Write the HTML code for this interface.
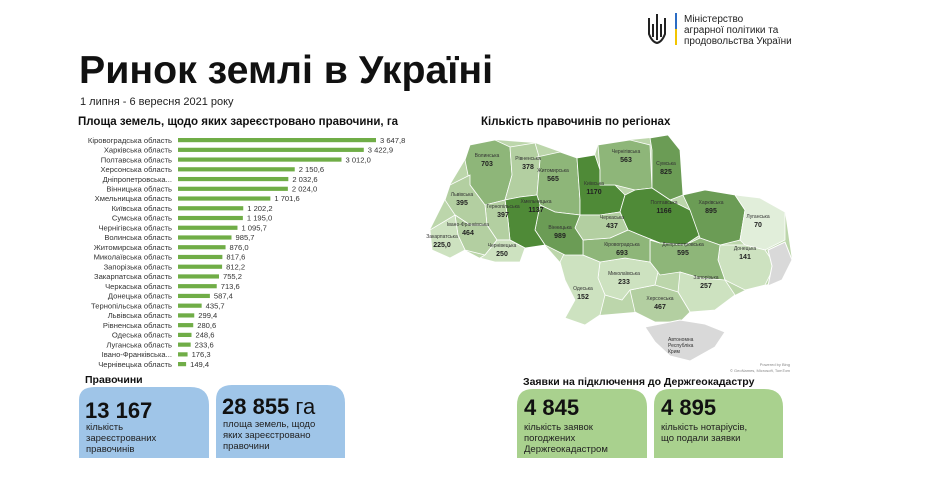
<!DOCTYPE html>
<html><head><meta charset="utf-8"><style>
html,body{margin:0;padding:0;background:#fff;}
svg{display:block;font-family:"Liberation Sans","DejaVu Sans",sans-serif;}
</style></head><body>
<svg id="root" width="947" height="504" viewBox="0 0 947 504" xmlns="http://www.w3.org/2000/svg">
<g>
  <path d="M657 14 L657 40 M649 18 L649 34 Q652 42 657 43 Q662 42 665 34 L665 18 M653 24 L653 37 M661 24 L661 37" stroke="#222" stroke-width="2" fill="none"/>
  <rect x="675" y="13" width="2" height="16" fill="#2b6cc4"/>
  <rect x="675" y="29" width="2" height="16" fill="#f2c500"/>
  <text x="684" y="22" font-size="10" fill="#222">Міністерство</text>
  <text x="684" y="33" font-size="10" fill="#222">аграрної політики та</text>
  <text x="684" y="44" font-size="10" fill="#222">продовольства України</text>
</g>
<text x="79" y="83" font-size="39" font-weight="bold" fill="#111" textLength="414" lengthAdjust="spacingAndGlyphs">Ринок землі в Україні</text>
<text x="80" y="105" font-size="11" fill="#222">1 липня - 6 вересня 2021 року</text>
<text x="78" y="125" font-size="11.5" font-weight="bold" fill="#111" textLength="320" lengthAdjust="spacingAndGlyphs">Площа земель, щодо яких зареєстровано правочини, га</text>
<g id="bars"></g>
<text x="481" y="125" font-size="11.5" font-weight="bold" fill="#111">Кількість правочинів по регіонах</text>
<g id="map"></g>
<text x="790" y="366" font-size="4" fill="#888" text-anchor="end">Powered by Bing</text>
<text x="790" y="372" font-size="4" fill="#888" text-anchor="end">© GeoNames, Microsoft, TomTom</text>

<text x="85" y="383" font-size="10.5" font-weight="bold" fill="#111">Правочини</text>
<path d="M79 458 L79 400 Q79 387 95 387 L190 387 Q209 387 209 405 L209 458 Z" fill="#9fc5e8"/>
<text x="85" y="418" font-size="22" font-weight="bold" fill="#111">13 167</text>
<text x="86" y="430" font-size="9.5" fill="#222">кількість</text>
<text x="86" y="441" font-size="9.5" fill="#222">зареєстрованих</text>
<text x="86" y="452" font-size="9.5" fill="#222">правочинів</text>
<path d="M216 458 L216 400 Q216 385 232 385 L327 385 Q345 385 345 403 L345 458 Z" fill="#9fc5e8"/>
<text x="222" y="414" font-size="22" font-weight="bold" fill="#111">28 855 <tspan font-weight="normal">га</tspan></text>
<text x="223" y="427" font-size="9.5" fill="#222">площа земель, щодо</text>
<text x="223" y="438" font-size="9.5" fill="#222">яких зареєстровано</text>
<text x="223" y="449" font-size="9.5" fill="#222">правочини</text>

<text x="523" y="385" font-size="10.5" font-weight="bold" fill="#111">Заявки на підключення до Держгеокадастру</text>
<path d="M517 458 L517 405 Q517 389 533 389 L627 389 Q647 389 647 407 L647 458 Z" fill="#a9d18e"/>
<text x="524" y="415" font-size="22" font-weight="bold" fill="#111">4 845</text>
<text x="524" y="430" font-size="9.5" fill="#222">кількість заявок</text>
<text x="524" y="441" font-size="9.5" fill="#222">погоджених</text>
<text x="524" y="452" font-size="9.5" fill="#222">Держгеокадастром</text>
<path d="M654 458 L654 405 Q654 389 670 389 L764 389 Q783 389 783 407 L783 458 Z" fill="#a9d18e"/>
<text x="661" y="415" font-size="22" font-weight="bold" fill="#111">4 895</text>
<text x="661" y="430" font-size="9.5" fill="#222">кількість нотаріусів,</text>
<text x="661" y="441" font-size="9.5" fill="#222">що подали заявки</text>
</svg>
<script>
// Bar chart data
const barCategories = ["Кіровоградська область","Харківська область","Полтавська область","Херсонська область","Дніпропетровська...","Вінницька область","Хмельницька область","Київська область","Сумська область","Чернігівська область","Волинська область","Житомирська область","Миколаївська область","Запорізька область","Закарпатська область","Черкаська область","Донецька область","Тернопільська область","Львівська область","Рівненська область","Одеська область","Луганська область","Івано-Франківська...","Чернівецька область"];
const barValues = [3647.8,3422.9,3012.0,2150.6,2032.6,2024.0,1701.6,1202.2,1195.0,1095.7,985.7,876.0,817.6,812.2,755.2,713.6,587.4,435.7,299.4,280.6,248.6,233.6,176.3,149.4];
const barLabels = ["3 647,8","3 422,9","3 012,0","2 150,6","2 032,6","2 024,0","1 701,6","1 202,2","1 195,0","1 095,7","985,7","876,0","817,6","812,2","755,2","713,6","587,4","435,7","299,4","280,6","248,6","233,6","176,3","149,4"];
// Map data
const regionNames = ["Волинська","Рівненська","Житомирська","Київська","Чернігівська","Сумська","Полтавська","Харківська","Луганська","Донецька","Дніпропетровська","Запорізька","Херсонська","Миколаївська","Одеська","Кіровоградська","Черкаська","Вінницька","Хмельницька","Тернопільська","Львівська","Івано-Франківська","Закарпатська","Чернівецька"];
const regionValues = [703,378,565,1170,563,825,1166,895,70,141,595,257,467,233,152,693,437,989,1137,397,395,464,225,250];
const regionValueLabels = ["703","378","565","1170","563","825","1166","895","70","141","595","257","467","233","152","693","437","989","1137","397","395","464","225,0","250"];

const NS="http://www.w3.org/2000/svg";
function mk(tag,attrs,parent){const e=document.createElementNS(NS,tag);for(const k in attrs)e.setAttribute(k,attrs[k]);parent.appendChild(e);return e;}

// bars
const bars=document.getElementById('bars');
const x0=178, xMax=3647.8, wMax=198, y0=140, step=9.74;
const xs=v=>v/xMax*wMax;
const ys=i=>y0+i*step;
barCategories.forEach((c,i)=>{
  const t=mk('text',{x:172,y:ys(i)+2.8,'font-size':7.6,'text-anchor':'end',fill:'#333'},bars);
  t.textContent=c;
  
  
  const r=mk('rect',{x:x0,y:ys(i)-2,width:xs(barValues[i]),height:4.2,fill:'#70ad47'},bars);
  
  
  const v=mk('text',{x:x0+xs(barValues[i])+4,y:ys(i)+2.8,'font-size':7.6,fill:'#333'},bars);
  v.textContent=barLabels[i];
  
  
});

// map geometry (shapes only)
const shapes={
"Волинська":"470,145 495,140 510,147 512,175 505,200 485,205 470,185 465,160",
"Рівненська":"510,147 535,143 540,160 537,195 520,197 505,200 512,175",
"Житомирська":"537,157 560,152 577,158 580,200 580,215 555,212 540,205 537,195 540,160",
"Київська":"577,158 595,155 600,170 600,185 615,185 625,195 620,212 600,215 580,215 580,200",
"Чернігівська":"598,145 630,140 650,145 652,188 635,190 615,185 600,185 600,170",
"Сумська":"650,138 668,135 680,150 683,195 670,200 652,188 652,150",
"Полтавська":"625,195 635,190 652,188 670,200 690,210 700,235 685,245 660,243 640,235 628,230 620,212",
"Харківська":"683,195 705,190 735,195 745,210 740,240 720,245 700,238 690,210",
"Луганська":"735,195 760,198 785,212 785,240 765,250 745,245 740,240 745,210",
"Донецька":"720,245 745,245 765,250 775,265 765,285 745,290 725,280 718,260",
"Дніпропетровська":"650,240 660,243 685,245 700,238 720,245 718,260 725,280 700,278 680,272 660,275 650,262",
"Запорізька":"680,272 700,278 725,280 735,295 715,310 690,312 678,292",
"Херсонська":"630,290 655,285 678,292 690,312 680,322 655,322 635,312",
"Миколаївська":"600,262 625,258 650,262 658,272 655,285 630,290 622,300 605,295 598,278",
"Одеська":"565,252 583,255 600,262 598,278 605,295 600,315 585,325 565,318 575,300 565,280 560,262",
"Кіровоградська":"583,240 610,238 628,230 640,235 660,243 650,240 650,262 625,258 600,262 583,255",
"Черкаська":"580,215 600,215 620,212 628,230 610,238 583,240 575,228",
"Вінницька":"540,205 555,212 580,215 575,228 583,240 583,255 565,255 545,245 535,230",
"Хмельницька":"505,200 520,197 537,195 540,205 535,230 545,245 525,248 510,240 508,220",
"Тернопільська":"485,205 505,200 508,220 510,240 497,240 487,225",
"Львівська":"450,185 470,175 470,185 485,205 487,225 470,225 455,215 445,200",
"Івано-Франківська":"455,215 470,225 487,225 497,240 485,255 465,250 458,235",
"Закарпатська":"430,230 455,215 458,235 465,250 450,258 432,250",
"Чернівецька":"485,255 497,240 510,240 525,248 520,262 495,262 480,258"
};
const labelPos={"Волинська":[487,157],"Рівненська":[528,160],"Житомирська":[553,172],"Київська":[594,185],"Чернігівська":[626,153],"Сумська":[666,165],"Полтавська":[664,204],"Харківська":[711,204],"Луганська":[758,218],"Донецька":[745,250],"Дніпропетровська":[683,246],"Запорізька":[706,279],"Херсонська":[660,300],"Миколаївська":[624,275],"Одеська":[583,290],"Кіровоградська":[622,246],"Черкаська":[612,219],"Вінницька":[560,229],"Хмельницька":[536,203],"Тернопільська":[503,208],"Львівська":[462,196],"Івано-Франківська":[468,226],"Закарпатська":[442,238],"Чернівецька":[502,247]};
function colorFor(v){
  if(v>=1100) return '#4f8a37';
  if(v>=800) return '#6b9c55';
  if(v>=550) return '#8eb679';
  if(v>=370) return '#b3cfa1';
  if(v>=130) return '#cde2c0';
  return '#e1eeda';
}
const map=document.getElementById('map');
const hull=mk('polygon',{points:"465,160 470,145 495,140 535,143 560,152 577,158 595,155 598,145 630,140 650,138 668,135 680,150 683,195 705,190 735,195 760,198 785,212 792,260 782,280 765,285 745,290 735,295 715,310 690,312 680,322 655,322 635,312 600,315 585,325 565,318 575,300 565,280 560,262 545,245 525,248 520,262 495,262 480,258 465,250 450,258 432,250 430,230 445,200 450,185",fill:'#bcd6ab'},map);


regionNames.forEach((n,i)=>{
  const p=mk('polygon',{points:shapes[n],fill:colorFor(regionValues[i]),stroke:'#fff','stroke-width':0.8},map);
  
  
});
// occupied areas
const occ1=mk('polygon',{points:"768,250 785,242 792,260 782,280 768,286 772,266",fill:'#d9d9d9',stroke:'#fff','stroke-width':1},map);


const occ2=mk('polygon',{points:"645,327 680,320 705,324 725,332 715,347 690,361 670,356 655,342",fill:'#d9d9d9',stroke:'#fff','stroke-width':1},map);


["Автономна","Республіка","Крим"].forEach((s,k)=>{
  const t=mk('text',{x:668,y:341+k*6,'font-size':5,fill:'#333'},map);
  t.textContent=s;
  
  
});
regionNames.forEach((n,i)=>{
  const [lx,ly]=labelPos[n];
  const t=mk('text',{x:lx,y:ly,'font-size':5,'text-anchor':'middle',fill:'#333'},map);
  t.textContent=n;
  
  
  const v=mk('text',{x:lx,y:ly+9,'font-size':7,'font-weight':'bold','text-anchor':'middle',fill:'#222'},map);
  v.textContent=regionValueLabels[i];
  
  
});
</script>
</body></html>
